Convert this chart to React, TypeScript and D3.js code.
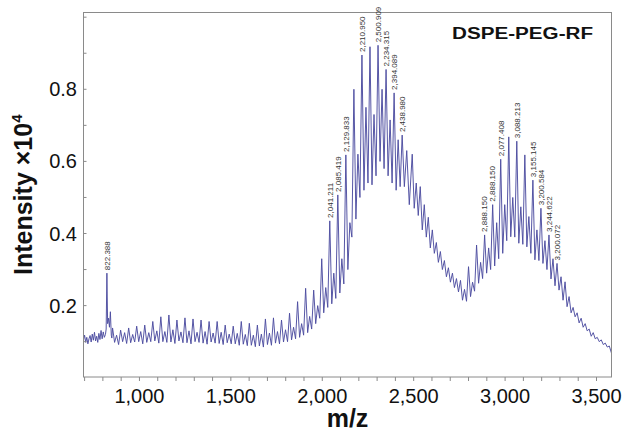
import React from "react";
import * as d3 from "d3";

// m/z, intensity (x10^4)
const spectrum: [number, number][] = [
  [694, 0.105], [700, 0.118], [706, 0.098], [712, 0.112], [718, 0.094], [724, 0.108],
  [730, 0.117], [736, 0.099], [742, 0.121], [748, 0.104], [754, 0.126], [760, 0.102],
  [766, 0.115], [772, 0.098], [778, 0.123], [784, 0.106], [790, 0.131], [796, 0.108],
  [802, 0.127], [808, 0.112], [814, 0.120], [818, 0.135], [822, 0.290], [826, 0.150],
  [831, 0.165], [836, 0.140], [841, 0.183], [846, 0.118], [849, 0.110],
  [853, 0.138], [864, 0.098], [875, 0.118], [886, 0.092],
  [897, 0.132], [908, 0.100], [919, 0.125], [930, 0.095],
  [941, 0.138], [952, 0.097], [963, 0.120], [974, 0.099],
  [985, 0.143], [996, 0.100], [1007, 0.128], [1018, 0.094],
  [1029, 0.146], [1040, 0.098], [1051, 0.125], [1062, 0.100],
  [1073, 0.156], [1084, 0.102], [1095, 0.130], [1106, 0.096],
  [1117, 0.169], [1128, 0.100], [1139, 0.128], [1150, 0.098],
  [1161, 0.174], [1172, 0.099], [1183, 0.133], [1194, 0.095],
  [1205, 0.160], [1216, 0.102], [1227, 0.127], [1238, 0.097],
  [1249, 0.166], [1260, 0.097], [1271, 0.130], [1282, 0.094],
  [1293, 0.163], [1304, 0.100], [1315, 0.126], [1326, 0.098],
  [1337, 0.160], [1348, 0.096], [1359, 0.128], [1370, 0.093],
  [1381, 0.156], [1392, 0.099], [1403, 0.124], [1414, 0.096],
  [1425, 0.156], [1436, 0.095], [1447, 0.126], [1458, 0.092],
  [1469, 0.146], [1480, 0.097], [1491, 0.121], [1502, 0.094],
  [1513, 0.143], [1524, 0.094], [1535, 0.123], [1546, 0.090],
  [1557, 0.156], [1568, 0.093], [1579, 0.120], [1590, 0.089],
  [1601, 0.151], [1612, 0.090], [1623, 0.118], [1634, 0.086],
  [1645, 0.146], [1656, 0.088], [1667, 0.121], [1678, 0.085],
  [1689, 0.163], [1700, 0.092], [1711, 0.124], [1722, 0.090],
  [1733, 0.166], [1744, 0.096], [1755, 0.128], [1766, 0.094],
  [1777, 0.160], [1788, 0.099], [1799, 0.133], [1810, 0.100],
  [1821, 0.179], [1832, 0.105], [1843, 0.140], [1854, 0.108],
  [1865, 0.211], [1876, 0.112], [1887, 0.150], [1898, 0.118],
  [1909, 0.248], [1920, 0.125], [1931, 0.170], [1942, 0.135],
  [1953, 0.243], [1964, 0.150], [1975, 0.200], [1986, 0.165],
  [1997, 0.330], [2008, 0.180], [2019, 0.250], [2030, 0.195],
  [2041, 0.435], [2052, 0.205], [2063, 0.290], [2074, 0.220],
  [2085, 0.507], [2096, 0.235], [2107, 0.330], [2118, 0.260],
  [2129, 0.618], [2140, 0.300], [2151, 0.430], [2162, 0.390],
  [2173, 0.800], [2184, 0.440], [2195, 0.620], [2206, 0.500],
  [2217, 0.895], [2228, 0.520], [2239, 0.750], [2250, 0.540],
  [2261, 0.918], [2272, 0.535], [2283, 0.730], [2294, 0.560],
  [2305, 0.922], [2316, 0.600], [2327, 0.800], [2338, 0.580],
  [2349, 0.855], [2360, 0.560], [2371, 0.715], [2382, 0.540],
  [2393, 0.790], [2404, 0.520], [2415, 0.660], [2426, 0.530],
  [2437, 0.673], [2449, 0.530], [2462, 0.630], [2476, 0.480],
  [2492, 0.620], [2503, 0.470], [2514, 0.540], [2525, 0.450],
  [2536, 0.530], [2547, 0.410], [2558, 0.480], [2569, 0.390],
  [2580, 0.445], [2591, 0.360], [2602, 0.410], [2613, 0.345],
  [2624, 0.375], [2635, 0.320], [2646, 0.350], [2657, 0.300],
  [2668, 0.325], [2679, 0.280], [2690, 0.305], [2701, 0.265],
  [2712, 0.290], [2723, 0.250], [2734, 0.275], [2745, 0.238],
  [2756, 0.270], [2767, 0.215], [2778, 0.245], [2789, 0.212],
  [2800, 0.308], [2811, 0.225], [2822, 0.265], [2833, 0.240],
  [2844, 0.368], [2855, 0.262], [2866, 0.320], [2877, 0.275],
  [2888, 0.396], [2899, 0.290], [2910, 0.360], [2921, 0.300],
  [2932, 0.480], [2943, 0.310], [2954, 0.430], [2965, 0.330],
  [2976, 0.606], [2987, 0.345], [2998, 0.480], [3009, 0.380],
  [3020, 0.668], [3031, 0.391], [3042, 0.500], [3053, 0.390],
  [3064, 0.656], [3075, 0.373], [3086, 0.474], [3097, 0.370],
  [3108, 0.618], [3119, 0.363], [3130, 0.447], [3141, 0.345],
  [3152, 0.548], [3163, 0.327], [3174, 0.410], [3185, 0.325],
  [3196, 0.470], [3207, 0.317], [3218, 0.380], [3229, 0.300],
  [3240, 0.396], [3251, 0.274], [3262, 0.330], [3273, 0.255],
  [3284, 0.317], [3295, 0.243], [3306, 0.280], [3317, 0.215],
  [3328, 0.266], [3339, 0.197], [3350, 0.225], [3361, 0.180],
  [3372, 0.195], [3383, 0.169], [3394, 0.180], [3405, 0.152],
  [3416, 0.165], [3427, 0.140], [3438, 0.150], [3449, 0.130],
  [3460, 0.135], [3471, 0.115], [3482, 0.125], [3493, 0.108],
  [3504, 0.112], [3515, 0.100], [3526, 0.105], [3537, 0.092],
  [3548, 0.096], [3559, 0.085], [3570, 0.088], [3582, 0.068],
];

const peakLabels: { text: string; mz: number; y: number }[] = [
  { text: "822.388", mz: 822, y: 0.29 },
  { text: "2,041.211", mz: 2041, y: 0.435 },
  { text: "2,085.419", mz: 2085, y: 0.507 },
  { text: "2,129.833", mz: 2129, y: 0.618 },
  { text: "2,210.950", mz: 2217, y: 0.895 },
  { text: "2,500.909", mz: 2305, y: 0.922 },
  { text: "2,234.315", mz: 2349, y: 0.855 },
  { text: "2,394.089", mz: 2393, y: 0.79 },
  { text: "2,438.980", mz: 2437, y: 0.673 },
  { text: "2,888.150", mz: 2888, y: 0.396 },
  { text: "2,888.150", mz: 2932, y: 0.48 },
  { text: "2,077.408", mz: 2976, y: 0.606 },
  { text: "3,088.213", mz: 3064, y: 0.656 },
  { text: "3,155.145", mz: 3152, y: 0.548 },
  { text: "3,200.584", mz: 3196, y: 0.47 },
  { text: "3,244.622", mz: 3240, y: 0.396 },
  { text: "3,200.072", mz: 3284, y: 0.317 },
];

const xTicks = [1000, 1500, 2000, 2500, 3000, 3500];
const xTickLabels = ["1,000", "1,500", "2,000", "2,500", "3,000", "3,500"];
const yTicks = [0.2, 0.4, 0.6, 0.8];
const yTickLabels = ["0.2", "0.4", "0.6", "0.8"];

const W = 625;
const H = 434;
const left = 83.5;
const right = 611.5;
const top = 12.5;
const bottom = 377;
const font = "'Liberation Sans', Arial, Helvetica, sans-serif";
const frameColor = "#8a8a8a";

export default function App() {
  const x = d3.scaleLinear().domain([694, 3582]).range([left, right]);
  const y = d3.scaleLinear().domain([0.002, 1.013]).range([bottom, top]);

  const line = d3
    .line<[number, number]>()
    .x((d) => x(d[0]))
    .y((d) => y(d[1]));

  const minorX = d3.range(700, 3501, 100);
  const minorY = d3.range(1, 11).map((v) => v / 10);

  return (
    <svg
      width={W}
      height={H}
      style={{ position: "absolute", left: 0, top: 0, background: "#fff" }}
      fontFamily={font}
    >
      <defs>
        <clipPath id="plot">
          <rect x={left} y={top} width={right - left} height={bottom - top} />
        </clipPath>
      </defs>

      <path
        d={line(spectrum) ?? ""}
        fill="none"
        stroke="#4d4da0"
        strokeWidth={0.95}
        strokeLinejoin="round"
        clipPath="url(#plot)"
      />

      <rect
        x={left}
        y={top}
        width={right - left}
        height={bottom - top}
        fill="none"
        stroke={frameColor}
        strokeWidth={1}
      />

      {minorX.map((v) => (
        <line key={"mx" + v} x1={x(v)} x2={x(v)} y1={bottom} y2={bottom + 4} stroke={frameColor} />
      ))}
      {minorY.map((v) => (
        <line key={"my" + v} x1={left} x2={left + 3} y1={y(v)} y2={y(v)} stroke={frameColor} />
      ))}

      {xTicks.map((v, i) => (
        <text key={"xt" + v} x={x(v)} y={403} fontSize={20} textAnchor="middle" fill="#111">
          {xTickLabels[i]}
        </text>
      ))}
      {yTicks.map((v, i) => (
        <text key={"yt" + v} x={77} y={y(v) + 7} fontSize={20} textAnchor="end" fill="#111">
          {yTickLabels[i]}
        </text>
      ))}

      {peakLabels.map((p, i) => (
        <text
          key={"pl" + i}
          transform={`translate(${x(p.mz) + 2.8},${y(p.y) - 3}) rotate(-90)`}
          fontSize={8}
          fill="#333"
        >
          {p.text}
        </text>
      ))}

      <text
        x={452}
        y={39}
        fontSize={16}
        fontWeight="bold"
        textLength={141}
        lengthAdjust="spacingAndGlyphs"
        fill="#111"
      >
        DSPE-PEG-RF
      </text>

      <text
        x={(left + right) / 2}
        y={427}
        fontSize={25}
        fontWeight="bold"
        textAnchor="middle"
        fill="#111"
      >
        m/z
      </text>

      <text
        transform={`translate(32,${(top + bottom) / 2}) rotate(-90)`}
        fontSize={25}
        fontWeight="bold"
        textAnchor="middle"
        fill="#111"
      >
        Intensity ×10
        <tspan fontSize={15} dy={-10}>4</tspan>
      </text>
    </svg>
  );
}
